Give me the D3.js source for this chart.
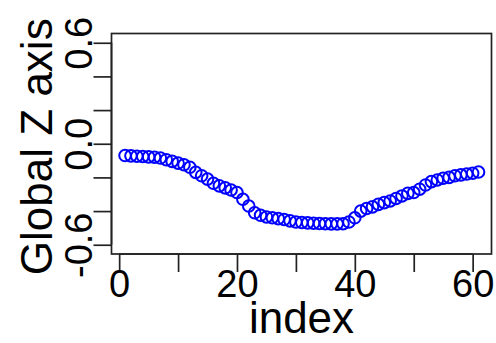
<!DOCTYPE html>
<html lang="en">
<head>
  <meta charset="UTF-8">
  <style>
    html, body { margin: 0; padding: 0; background: #fff; }
    svg { display: block; }
    text { font-family: "Liberation Sans", Arial, sans-serif; fill: #000; }
    .tick-label { font-size: 38px; }
    .axis-title { font-size: 44px; }
  </style>
  <script src="https://d3js.org/d3.v7.min.js"></script>
</head>
<body>
  <svg width="496" height="343" id="chart"></svg>

  <script>
    // Global Z values, one per index (1..61)
    const globalZ = [
      -0.070, -0.072, -0.074, -0.076, -0.078, -0.080, -0.085, -0.095, -0.105, -0.115,
      -0.125, -0.140, -0.170, -0.190, -0.210, -0.235, -0.250, -0.262, -0.275, -0.290,
      -0.330, -0.370, -0.410, -0.425, -0.435, -0.440, -0.445, -0.450, -0.458, -0.465,
      -0.468, -0.470, -0.472, -0.474, -0.475, -0.476, -0.476, -0.475, -0.465, -0.440,
      -0.400, -0.385, -0.375, -0.360, -0.350, -0.340, -0.325, -0.310, -0.295, -0.290,
      -0.270, -0.245, -0.225, -0.215, -0.205, -0.200, -0.190, -0.185, -0.180, -0.175,
      -0.168
    ];
    const index = globalZ.map((d, i) => i + 1);

    const xTicks = [0, 10, 20, 30, 40, 50, 60];
    const xLabels = [0, 20, 40, 60];
    const yTicks = [-0.6, -0.4, -0.2, 0.0, 0.2, 0.4, 0.6];
    const yLabels = [-0.6, 0.0, 0.6];

    const svg = d3.select("#chart");

    // plot box
    const boxL = 111.5, boxR = 491.5, boxT = 33.5, boxB = 254;

    const x = d3.scaleLinear().domain([-1.3, 63.2]).range([boxL, boxR]);
    const y = d3.scaleLinear().domain([-0.655, 0.655]).range([boxB, boxT]);

    // points
    svg.append("g")
      .selectAll("circle")
      .data(globalZ)
      .enter()
      .append("circle")
      .attr("cx", (d, i) => x(index[i]))
      .attr("cy", d => y(d))
      .attr("r", 5.8)
      .attr("fill", "none")
      .attr("stroke", "#0000ff")
      .attr("stroke-width", 2);

    // box
    svg.append("rect")
      .attr("x", boxL).attr("y", boxT)
      .attr("width", boxR - boxL).attr("height", boxB - boxT)
      .attr("fill", "none")
      .attr("stroke", "#222")
      .attr("stroke-width", 1.7);

    // x axis
    const xAxis = svg.append("g")
      .attr("transform", `translate(0,${boxB})`)
      .call(d3.axisBottom(x).tickValues(xTicks).tickSize(18)
        .tickFormat(d => xLabels.includes(d) ? d : ""));
    xAxis.select(".domain")
      .attr("d", `M${x(0)},0H${x(60)}`)
      .attr("stroke", "#222").attr("stroke-width", 1.7);
    xAxis.selectAll(".tick line").attr("stroke", "#222").attr("stroke-width", 1.7);
    xAxis.selectAll(".tick text")
      .attr("class", "tick-label")
      .attr("y", 43)
      .attr("dy", null);
    xAxis.attr("font-size", null).attr("font-family", null);

    // y axis (plain hyphen for the minus sign, like the original)
    const yAxis = svg.append("g")
      .attr("transform", `translate(${boxL},0)`)
      .call(d3.axisLeft(y).tickValues(yTicks).tickSize(18)
        .tickFormat(d => yLabels.includes(d) ? d.toFixed(1) : ""));
    yAxis.select(".domain")
      .attr("d", `M0,${y(-0.6)}V${y(0.6)}`)
      .attr("stroke", "#222").attr("stroke-width", 1.7);
    yAxis.selectAll(".tick line").attr("stroke", "#222").attr("stroke-width", 1.7);
    yAxis.selectAll(".tick text")
      .attr("class", "tick-label")
      .attr("x", null).attr("dy", null)
      .attr("text-anchor", "middle")
      .attr("transform", "translate(-20,0) rotate(-90)");
    yAxis.attr("font-size", null).attr("font-family", null);

    // axis titles
    svg.append("text")
      .attr("class", "axis-title")
      .attr("x", (boxL + boxR) / 2)
      .attr("y", 333)
      .attr("text-anchor", "middle")
      .text("index");

    svg.append("text")
      .attr("class", "axis-title")
      .attr("transform", `translate(52,${(boxT + boxB) / 2 + 3}) rotate(-90)`)
      .attr("text-anchor", "middle")
      .text("Global Z axis");
  </script>
</body>
</html>
